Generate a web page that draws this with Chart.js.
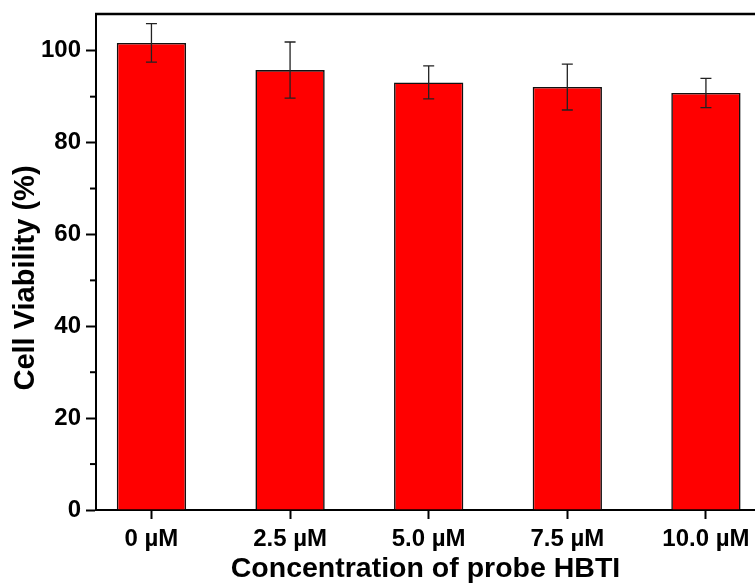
<!DOCTYPE html>
<html>
<head>
<meta charset="utf-8">
<script src="https://cdn.jsdelivr.net/npm/chart.js@4"></script>
<style>
  html, body { margin: 0; padding: 0; background: #fff; overflow: hidden; }
  #wrap { width: 755px; height: 586px; position: relative; }
</style>
</head>
<body>
<div id="wrap"><canvas id="c" width="755" height="586"></canvas></div>
<script>
const categories = ["0 \u00b5M", "2.5 \u00b5M", "5.0 \u00b5M", "7.5 \u00b5M", "10.0 \u00b5M"];
const viability = [101.7, 95.8, 93.1, 92.1, 90.8];
const errors = [4.2, 6.1, 3.6, 5.0, 3.2];
const yTicks = [0, 10, 20, 30, 40, 50, 60, 70, 80, 90, 100];
const yLabelled = [0, 20, 40, 60, 80, 100];
const yTitle = 'Cell Viability (%)';
const xTitle = 'Concentration of probe HBTI';

const FONT = "'Liberation Sans', Arial, sans-serif";

const errorBars = {
  id: 'errorBars',
  afterDatasetsDraw(chart) {
    const { ctx, scales: { x, y } } = chart;
    ctx.save();
    ctx.strokeStyle = '#222';
    ctx.lineWidth = 1.3;
    viability.forEach((v, i) => {
      const px = x.getPixelForValue(i);
      const top = y.getPixelForValue(v + errors[i]);
      const bot = y.getPixelForValue(v - errors[i]);
      ctx.beginPath();
      ctx.moveTo(px, top); ctx.lineTo(px, bot);
      ctx.moveTo(px - 5.5, top); ctx.lineTo(px + 5.5, top);
      ctx.moveTo(px - 5.5, bot); ctx.lineTo(px + 5.5, bot);
      ctx.stroke();
    });
    ctx.restore();
  }
};

const frame = {
  id: 'frame',
  afterDraw(chart) {
    const { ctx, chartArea: a, scales: { y } } = chart;
    ctx.save();
    ctx.strokeStyle = '#000';
    ctx.lineWidth = 2.5;
    ctx.beginPath();
    ctx.moveTo(a.left - 1, a.top); ctx.lineTo(a.right, a.top);
    ctx.stroke();
    // minor ticks
    ctx.lineWidth = 2;
    yTicks.forEach(t => {
      if (yLabelled.includes(t)) return;
      const py = y.getPixelForValue(t);
      ctx.beginPath();
      ctx.moveTo(a.left - 6, py); ctx.lineTo(a.left, py);
      ctx.stroke();
    });
    // y axis title
    ctx.translate(26, 278);
    ctx.rotate(-Math.PI / 2);
    ctx.fillStyle = '#000';
    ctx.font = "bold 29px " + FONT;
    ctx.textAlign = 'center';
    ctx.textBaseline = 'middle';
    ctx.fillText(yTitle, 0, 0);
    ctx.restore();
  }
};

new Chart(document.getElementById('c'), {
  type: 'bar',
  data: {
    datasets: [{
      data: viability.map((v, i) => ({ x: i, y: v })),
      backgroundColor: '#ff0000',
      borderColor: '#111',
      borderWidth: 1.6,
      barPercentage: 0.5,
      categoryPercentage: 1.0
    }]
  },
  options: {
    responsive: false,
    animation: false,
    events: [],
    layout: { padding: { top: 14, right: 0, left: 0, bottom: 0 } },
    plugins: { legend: { display: false }, tooltip: { enabled: false } },
    scales: {
      x: {
        type: 'linear',
        min: -0.4,
        max: 4.354,
        offset: false,
        afterBuildTicks(s) { s.ticks = categories.map((c, i) => ({ value: i })); },
        afterFit(s) { s.height = 76; s.paddingLeft = 0; s.paddingRight = 0; },
        ticks: {
          callback: (v) => categories[v],
          color: '#000',
          font: { family: FONT, size: 24, weight: 'bold' },
          padding: 6,
          maxRotation: 0,
          autoSkip: false
        },
        grid: {
          display: true,
          drawOnChartArea: false,
          drawTicks: true,
          tickLength: 9,
          tickWidth: 2,
          tickColor: '#000',
          offset: false
        },
        border: { display: true, color: '#000', width: 2 },
        title: {
          display: true,
          text: xTitle,
          color: '#000',
          font: { family: FONT, size: 28.5, weight: 'bold' },
          padding: { top: 0, bottom: 0 }
        }
      },
      y: {
        min: 0,
        max: 108,
        afterBuildTicks(s) { s.ticks = yLabelled.map(v => ({ value: v })); },
        afterFit(s) { s.width = 96; s.paddingTop = 0; s.paddingBottom = 0; },
        ticks: {
          color: '#000',
          font: { family: FONT, size: 24, weight: 'bold' },
          padding: 5
        },
        grid: {
          display: true,
          drawOnChartArea: false,
          drawTicks: true,
          tickLength: 10,
          tickWidth: 2,
          tickColor: '#000'
        },
        border: { display: true, color: '#000', width: 2 },
        title: { display: false }
      }
    }
  },
  plugins: [errorBars, frame]
});
</script>
</body>
</html>
